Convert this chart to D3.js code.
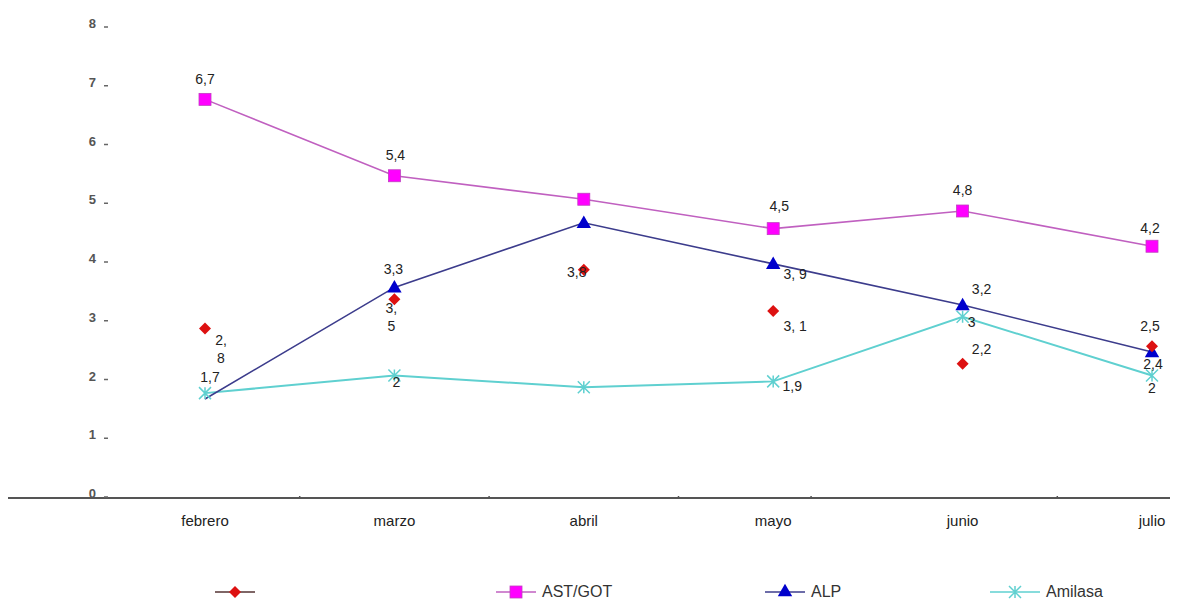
<!DOCTYPE html>
<html>
<head>
<meta charset="utf-8">
<script src="https://cdn.jsdelivr.net/npm/d3@7"></script>
<style>
  html, body { margin: 0; padding: 0; background: #fff; }
  svg { display: block; font-family: "Liberation Sans", Arial, sans-serif; }
</style>
</head>
<body>
<svg id="chart" width="1178" height="603"></svg>
<script>
// Meses
const meses = ["febrero", "marzo", "abril", "mayo", "junio", "julio"];

// Valores por serie
const serieRoja = [2.8, 3.3, 3.8, 3.1, 2.2, 2.5];       // solo marcadores
const astGot    = [6.7, 5.4, 5.0, 4.5, 4.8, 4.2];
const alp       = [1.6, 3.5, 4.6, 3.9, 3.2, 2.4];
const amilasa   = [1.7, 2.0, 1.8, 1.9, 3.0, 2.0];

// Etiquetas de valor mostradas (null = sin etiqueta)
const etiquetasRoja    = ["2,\n8", "3,3", "3,8", "3, 1", "2,2", "2,5"];
const etiquetasAst     = ["6,7", "5,4", null, "4,5", "4,8", "4,2"];
const etiquetasAlp     = [null, "3,\n5", null, "3, 9", "3,2", "2,4"];
const etiquetasAmilasa = ["1,7", "2", null, "1,9", "3", "2"];

// Marcas del eje Y
const ticksY = [0, 1, 2, 3, 4, 5, 6, 7, 8];
// Pequeñas marcas sobre el eje X (en unidades de índice de mes)
const marcasEjeX = [0.5, 1.5, 2.5, 3.2, 4.5];

const svg = d3.select("#chart");

const x = d3.scalePoint().domain(meses).range([205, 1152]);
const y = d3.scaleLinear().domain([0, 8]).range([493, 23]);
const xIdx = d3.scaleLinear().domain([0, meses.length - 1]).range([205, 1152]);

// Desplazamientos de etiquetas por serie y mes (dx, dy respecto al punto)
const posEtiquetas = {
  roja:    [[16, 11], [-1, -30], [-7, 2], [22, 15], [19, -15], [-2, -20]],
  ast:     [[0, -20], [1, -21], [0, 0], [6, -23], [0, -21], [-2, -18]],
  alp:     [[0, 0], [-3, 21], [0, 0], [22, 10], [19, -16], [1, 12]],
  amilasa: [[5, -16], [2, 6], [0, 0], [19, 5], [9, 5], [0, 12]]
};

// Eje X: línea base
const ejeY0 = y(0) + 5;
svg.append("line")
  .attr("x1", 8).attr("x2", 1170)
  .attr("y1", ejeY0).attr("y2", ejeY0)
  .attr("stroke", "#555").attr("stroke-width", 2);

svg.selectAll(".marcaX").data(marcasEjeX).enter().append("line")
  .attr("x1", d => xIdx(d)).attr("x2", d => xIdx(d))
  .attr("y1", ejeY0 - 2).attr("y2", ejeY0 + 1)
  .attr("stroke", "#555").attr("stroke-width", 1.5);

// Etiquetas de meses
svg.selectAll(".mes").data(meses).enter().append("text")
  .attr("x", d => x(d)).attr("y", 526)
  .attr("text-anchor", "middle")
  .attr("font-size", 15).attr("fill", "#222")
  .text(d => d);

// Eje Y: números con su pequeño guion
const gy = svg.append("g");
gy.selectAll("text").data(ticksY).enter().append("text")
  .attr("x", 96).attr("y", d => y(d) + 5)
  .attr("text-anchor", "end")
  .attr("font-size", 13).attr("font-weight", "bold").attr("fill", "#555")
  .text(d => d);
gy.selectAll("line").data(ticksY).enter().append("line")
  .attr("x1", 104).attr("x2", 108)
  .attr("y1", d => y(d) + 4).attr("y2", d => y(d) + 4)
  .attr("stroke", "#666").attr("stroke-width", 1.5);

// Generador de líneas
const linea = d3.line()
  .defined(d => d.v != null)
  .x(d => x(d.m)).y(d => y(d.v));
const pts = arr => arr.map((v, i) => ({ m: meses[i], v, i }));

// Líneas
svg.append("path").datum(pts(amilasa)).attr("d", linea)
  .attr("fill", "none").attr("stroke", "#5fd0d0").attr("stroke-width", 2);
svg.append("path").datum(pts(alp)).attr("d", linea)
  .attr("fill", "none").attr("stroke", "#3c3c8c").attr("stroke-width", 1.6);
svg.append("path").datum(pts(astGot)).attr("d", linea)
  .attr("fill", "none").attr("stroke", "#c060c0").attr("stroke-width", 1.6);

// Marcadores
const simbolo = (tipo, size) => d3.symbol().type(tipo).size(size)();

function marcadorX(g, cx, cy, r, color) {
  g.append("path")
    .attr("d", `M${cx - r},${cy - r}L${cx + r},${cy + r}M${cx - r},${cy + r}L${cx + r},${cy - r}M${cx},${cy - r}L${cx},${cy + r}`)
    .attr("stroke", color).attr("stroke-width", 1.5).attr("fill", "none");
}

const gm = svg.append("g");
// Amilasa: asteriscos
pts(amilasa).forEach(d => marcadorX(gm, x(d.m), y(d.v), 6, "#5fd0d0"));
// AST/GOT: cuadrados
gm.selectAll(".sq").data(pts(astGot)).enter().append("rect")
  .attr("x", d => x(d.m) - 6).attr("y", d => y(d.v) - 6)
  .attr("width", 12).attr("height", 12)
  .attr("fill", "#ff00ff").attr("stroke", "#c040c0").attr("stroke-width", 0.8);
// ALP: triángulos (el primer punto no lleva marcador)
gm.selectAll(".tri").data(pts(alp).filter(d => d.i > 0)).enter().append("path")
  .attr("d", simbolo(d3.symbolTriangle, 90))
  .attr("transform", d => `translate(${x(d.m)},${y(d.v) + 1})`)
  .attr("fill", "#0000cc");
// Serie roja: rombos
gm.selectAll(".dia").data(pts(serieRoja)).enter().append("path")
  .attr("d", "M0,-6L6,0L0,6L-6,0Z")
  .attr("transform", d => `translate(${x(d.m)},${y(d.v)})`)
  .attr("fill", "#dd1111");

// Etiquetas de valores
function etiquetas(serie, textos, offs) {
  const g = svg.append("g");
  pts(serie).forEach(d => {
    const t = textos[d.i];
    if (t == null) return;
    const [dx, dy] = offs[d.i];
    const lineas = t.split("\n");
    const txt = g.append("text")
      .attr("x", x(d.m) + dx).attr("y", y(d.v) + dy + 5)
      .attr("text-anchor", "middle")
      .attr("font-size", 14).attr("fill", "#222");
    lineas.forEach((l, k) => {
      txt.append("tspan").attr("x", x(d.m) + dx).attr("dy", k === 0 ? 0 : 18).text(l);
    });
  });
}
etiquetas(serieRoja, etiquetasRoja, posEtiquetas.roja);
etiquetas(astGot, etiquetasAst, posEtiquetas.ast);
etiquetas(alp, etiquetasAlp, posEtiquetas.alp);
etiquetas(amilasa, etiquetasAmilasa, posEtiquetas.amilasa);

// Leyenda
const leyenda = [
  { nombre: "",        x0: 215, x1: 255, color: "#dd1111", lineColor: "#553333", tipo: "rombo" },
  { nombre: "AST/GOT", x0: 496, x1: 536, color: "#ff00ff", lineColor: "#c060c0", tipo: "cuadrado" },
  { nombre: "ALP",     x0: 765, x1: 805, color: "#0000cc", lineColor: "#3c3c8c", tipo: "triangulo" },
  { nombre: "Amilasa", x0: 990, x1: 1040, color: "#5fd0d0", lineColor: "#5fd0d0", tipo: "aster" }
];
const ly = 592;
const gl = svg.append("g");
leyenda.forEach(l => {
  const cx = (l.x0 + l.x1) / 2;
  gl.append("line").attr("x1", l.x0).attr("x2", l.x1).attr("y1", ly).attr("y2", ly)
    .attr("stroke", l.lineColor).attr("stroke-width", 1.6);
  if (l.tipo === "rombo") {
    gl.append("path").attr("d", "M0,-6L6,0L0,6L-6,0Z")
      .attr("transform", `translate(${cx},${ly})`).attr("fill", l.color);
  } else if (l.tipo === "cuadrado") {
    gl.append("rect").attr("x", cx - 6).attr("y", ly - 6).attr("width", 12).attr("height", 12)
      .attr("fill", l.color).attr("stroke", "#c040c0").attr("stroke-width", 0.8);
  } else if (l.tipo === "triangulo") {
    gl.append("path").attr("d", simbolo(d3.symbolTriangle, 90))
      .attr("transform", `translate(${cx},${ly})`).attr("fill", l.color);
  } else {
    marcadorX(gl, cx, ly, 6, l.color);
  }
  if (l.nombre) {
    gl.append("text").attr("x", l.x1 + 6).attr("y", ly + 5)
      .attr("font-size", 16).attr("fill", "#333").text(l.nombre);
  }
});
</script>
</body>
</html>
